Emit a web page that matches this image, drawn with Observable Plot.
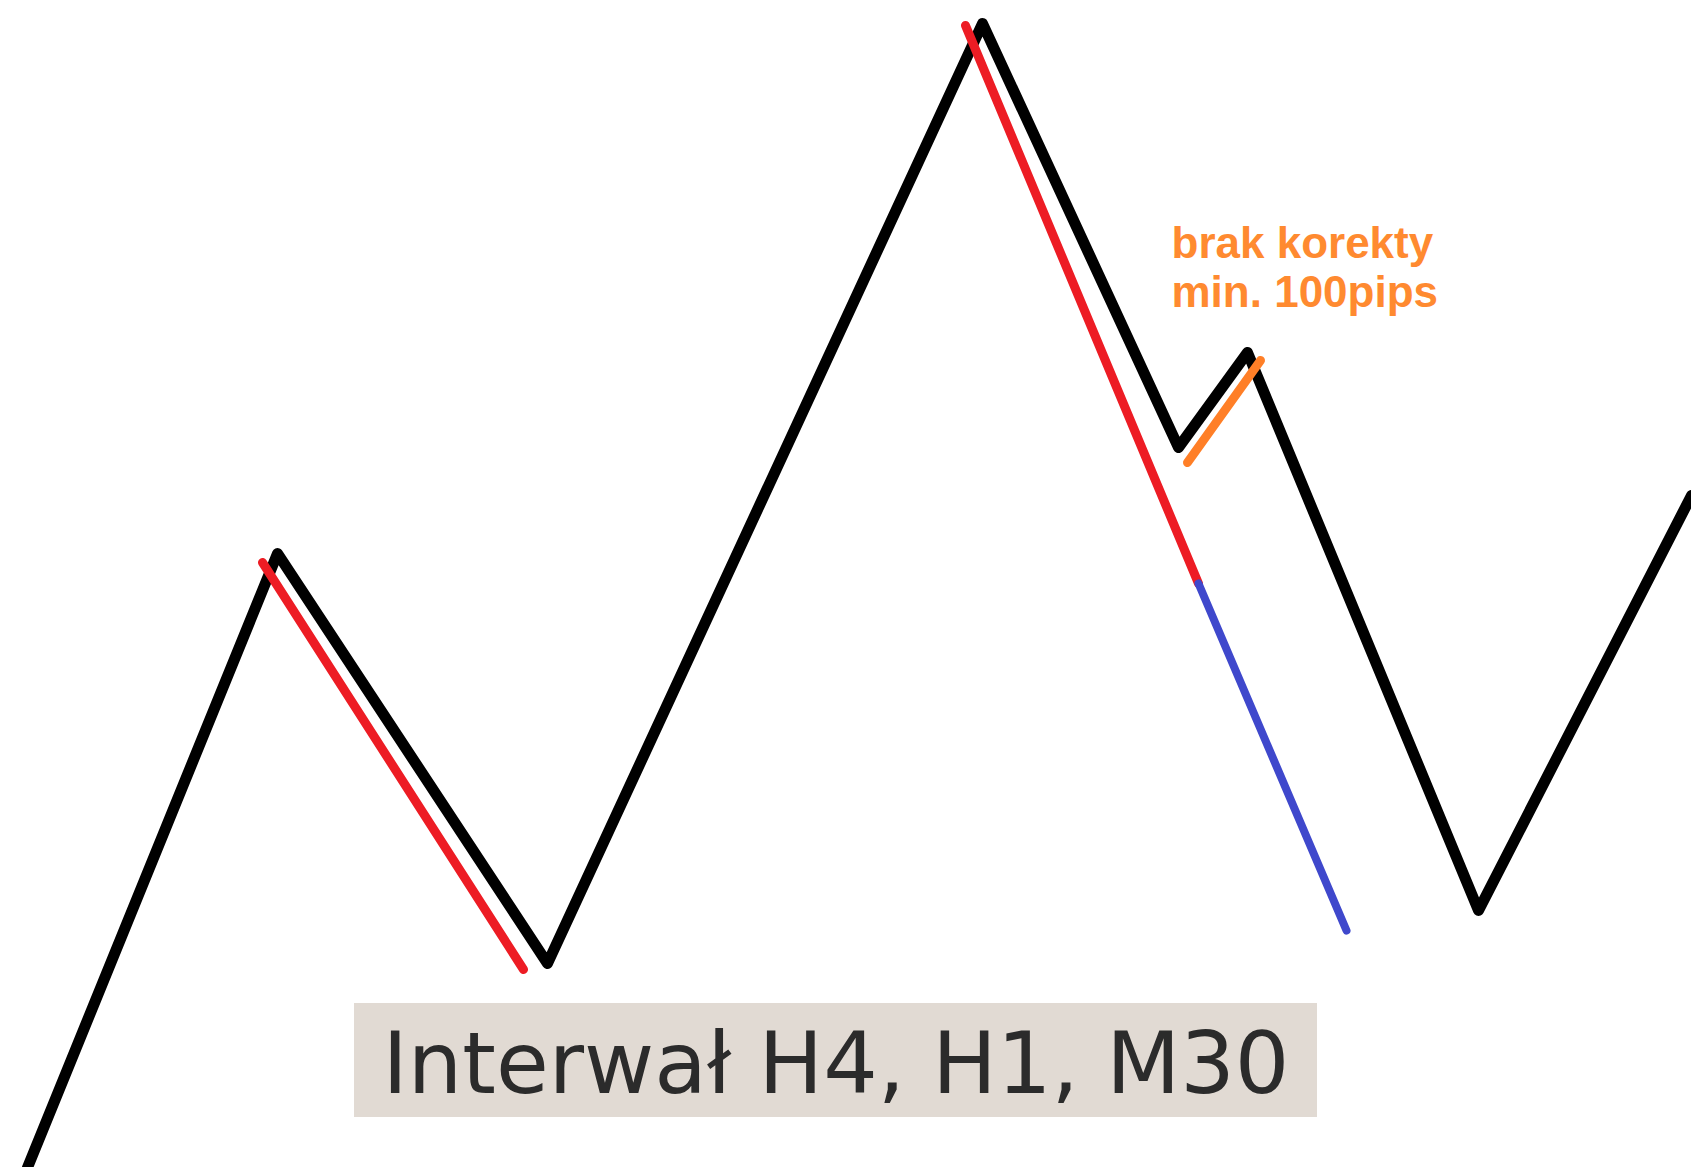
<!DOCTYPE html>
<html>
<head>
<meta charset="utf-8">
<script src="https://cdn.jsdelivr.net/npm/d3@7"></script>
<script src="https://cdn.jsdelivr.net/npm/@observablehq/plot@0.6"></script>
<style>
  html, body { margin: 0; padding: 0; background: #ffffff; overflow: hidden; }
  #chart svg { display: block; }
</style>
</head>
<body>
<div id="chart"></div>
<script>
// Price path (x = time position, y = price level; higher = up)
const zigX = [27, 277, 547, 982, 1178, 1247, 1478, 1691];
const zigY = [0, 614, 204, 1144, 720, 815, 257, 672];

// Red swing markers
const red1X = [262, 523];
const red1Y = [605, 198];
const red2X = [965, 1198];
const red2Y = [1142, 584];

// Blue projection
const blueX = [1198, 1346];
const blueY = [584, 237];

// Orange correction
const orangeX = [1187, 1260];
const orangeY = [705, 807];

// Annotation
const noteLines = ["brak korekty", "min. 100pips"];
const noteX = [1171, 1171];
const noteY = [910, 861];

// Interval label
const labelText = "Interwał H4, H1, M30";
const labelBoxX = [354, 1317];
const labelBoxY = [50, 164];
const labelX = 382;
const labelY = 75;

const W = 1691, H = 1167;
const pts = (xs, ys) => xs.map((x, i) => ({x, y: ys[i]}));

const chart = Plot.plot({
  width: W,
  height: H,
  margin: 0,
  x: {domain: [0, W], axis: null},
  y: {domain: [0, H], axis: null},
  style: {background: "#ffffff"},
  marks: [
    Plot.rect([{x1: labelBoxX[0], x2: labelBoxX[1], y1: labelBoxY[0], y2: labelBoxY[1]}],
      {x1: "x1", x2: "x2", y1: "y1", y2: "y2", fill: "#e1dad3"}),
    Plot.text([labelText], {x: labelX, y: labelY, text: d => d, textAnchor: "start", lineAnchor: "bottom",
      fontSize: 85, fontFamily: "DejaVu Sans", fill: "#2b2b2b"}),
    Plot.line(pts(zigX, zigY), {x: "x", y: "y", stroke: "#000000", strokeWidth: 11,
      strokeLinejoin: "round", strokeLinecap: "round"}),
    Plot.line(pts(red1X, red1Y), {x: "x", y: "y", stroke: "#ed1c24", strokeWidth: 9, strokeLinecap: "round"}),
    Plot.line(pts(red2X, red2Y), {x: "x", y: "y", stroke: "#ed1c24", strokeWidth: 9, strokeLinecap: "round"}),
    Plot.line(pts(blueX, blueY), {x: "x", y: "y", stroke: "#3f48cc", strokeWidth: 8, strokeLinecap: "round"}),
    Plot.line(pts(orangeX, orangeY), {x: "x", y: "y", stroke: "#ff7f27", strokeWidth: 9, strokeLinecap: "round"}),
    Plot.text(noteLines.map((t, i) => ({t, x: noteX[i], y: noteY[i]})),
      {x: "x", y: "y", text: "t", textAnchor: "start", lineAnchor: "bottom",
       fontSize: 44, fontWeight: "bold", fontFamily: "Liberation Sans", fill: "#ff8a30"})
  ]
});

document.getElementById("chart").appendChild(chart);

// fit the label's width to the box as in the original
d3.select(chart).selectAll("text").filter(function() { return this.textContent === labelText; })
  .attr("textLength", 907).attr("lengthAdjust", "spacingAndGlyphs");
</script>
</body>
</html>
